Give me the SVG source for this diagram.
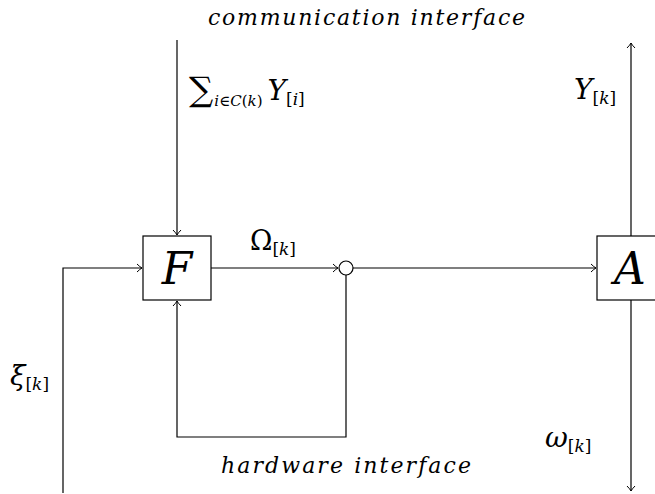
<svg xmlns="http://www.w3.org/2000/svg" width="655" height="494" viewBox="0 0 655 494" font-family="DejaVu Serif, Liberation Serif, serif">
<defs>
<marker id="arr" viewBox="-6 -5 8 10" markerWidth="8" markerHeight="10" refX="0" refY="0" orient="auto" markerUnits="userSpaceOnUse">
<path d="M-5,-4 Q-2,-1 0,0 Q-2,1 -5,4" fill="none" stroke="#000" stroke-width="1"/>
</marker>
</defs>
<rect width="655" height="494" fill="#fff"/>
<g id="connectors" fill="none" stroke="#000" stroke-width="1.2">
<path d="M177,40 V235" marker-end="url(#arr)"/>
<path d="M211,268 H338" marker-end="url(#arr)"/>
<path d="M353,268 H596" marker-end="url(#arr)"/>
<path d="M346,275 V437 H177 V301" marker-end="url(#arr)"/>
<path d="M63,493 V268 H142" marker-end="url(#arr)"/>
<path d="M631,236 V43" marker-end="url(#arr)"/>
<path d="M631,300 V491" marker-end="url(#arr)"/>
</g>
<g id="F">
<rect x="143" y="236" width="68" height="64" fill="#fff" stroke="#000" stroke-width="1.2"/>
<text x="177" y="284" font-family="DejaVu Serif" font-style="italic" font-size="44" text-anchor="middle">F</text>
</g>
<g id="junction">
<circle cx="346" cy="268" r="7" fill="#fff" stroke="#000" stroke-width="1.2"/>
</g>
<g id="A">
<rect x="597" y="236" width="68" height="64" fill="#fff" stroke="#000" stroke-width="1.2"/>
<text x="630" y="284" font-family="DejaVu Serif" font-style="italic" font-size="44" text-anchor="middle">A</text>
</g>
<g id="labels" font-family="DejaVu Serif">
<text x="208" y="25" font-style="italic" font-size="22" textLength="317" lengthAdjust="spacing">communication interface</text>
<text x="189" y="101"><tspan font-size="34">∑</tspan><tspan font-style="italic" font-size="15" dy="5" dx="1">i</tspan><tspan font-size="15">∈</tspan><tspan font-style="italic" font-size="15">C</tspan><tspan font-size="15">(</tspan><tspan font-style="italic" font-size="15">k</tspan><tspan font-size="15">)</tspan><tspan font-style="italic" font-size="28" dy="-6" dx="5">Y</tspan><tspan font-size="17" dy="5">[</tspan><tspan font-style="italic" font-size="17">i</tspan><tspan font-size="17">]</tspan></text>
<text x="250" y="250"><tspan font-size="27">Ω</tspan><tspan font-size="17" dy="5">[</tspan><tspan font-style="italic" font-size="17">k</tspan><tspan font-size="17">]</tspan></text>
<text x="574" y="99"><tspan font-style="italic" font-size="28">Y</tspan><tspan font-size="17" dy="5">[</tspan><tspan font-style="italic" font-size="17">k</tspan><tspan font-size="17">]</tspan></text>
<text x="10" y="385"><tspan font-style="italic" font-size="28">ξ</tspan><tspan font-size="17" dy="5">[</tspan><tspan font-style="italic" font-size="17">k</tspan><tspan font-size="17">]</tspan></text>
<text x="545" y="447"><tspan font-style="italic" font-size="28">ω</tspan><tspan font-size="17" dy="5">[</tspan><tspan font-style="italic" font-size="17">k</tspan><tspan font-size="17">]</tspan></text>
<text x="221" y="473" font-style="italic" font-size="22" textLength="250" lengthAdjust="spacing">hardware interface</text>
</g>
</svg>
